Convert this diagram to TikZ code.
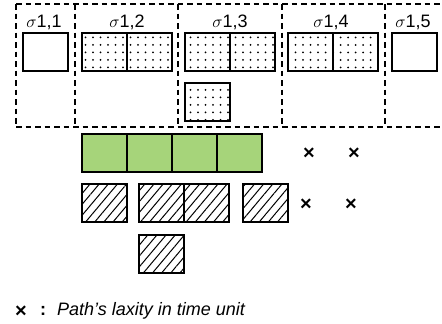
\documentclass[tikz,border=0pt]{standalone}
\usepackage{fontspec}
\setmainfont{Liberation Sans}
\usetikzlibrary{patterns.meta}
\definecolor{slotgreen}{RGB}{166,212,122}
\tikzset{
  slot/.style={line width=2.6pt},
  dotted slot/.style={slot, pattern={Dots[distance=7.5pt, radius=1pt, xshift=3pt, yshift=1.5pt]}},
  hatched slot/.style={slot, pattern={Lines[angle=50, distance=7pt, line width=1pt]}},
  green slot/.style={slot, fill=slotgreen},
  group line/.style={line width=2.4pt, dash pattern=on 5.5pt off 4pt},
  label/.style={font=\fontsize{18}{20}\selectfont, inner sep=0pt},
  mark x/.style={font=\bfseries\fontsize{20}{22}\selectfont, inner sep=0pt}
}
\begin{document}
\begin{tikzpicture}[x=1pt, y=-1pt]
      \useasboundingbox (0,0) rectangle (442,324);
      \def\w{45}
      \def\h{38}
      %
      \draw[group line] (16,4) -- (450,4);      % top edge of the groups
      \draw[group line] (16,127) -- (450,127);  % bottom edge of the groups
      \foreach \gx in {16,75,178,282,385}
        \draw[group line] (\gx,4) -- (\gx,127);
      %
      \node[label] (s11) at (44,22)  {$\sigma$1,1};
      \node[label] (s12) at (127,22) {$\sigma$1,2};
      \node[label] (s13) at (230,22) {$\sigma$1,3};
      \node[label] (s14) at (331,22) {$\sigma$1,4};
      \node[label] (s15) at (413,22) {$\sigma$1,5};
      %
      \draw[slot] (23,33) rectangle ++(\w,\h);          % sigma 1,1
      \draw[dotted slot] (82,33) rectangle ++(\w,\h);   % sigma 1,2
      \draw[dotted slot] (127,33) rectangle ++(\w,\h);
      \draw[dotted slot] (185,33) rectangle ++(\w,\h);  % sigma 1,3
      \draw[dotted slot] (230,33) rectangle ++(\w,\h);
      \draw[dotted slot] (185,83) rectangle ++(\w,\h);
      \draw[dotted slot] (288,33) rectangle ++(\w,\h);  % sigma 1,4
      \draw[dotted slot] (333,33) rectangle ++(\w,\h);
      \draw[slot] (392,33) rectangle ++(\w,\h);         % sigma 1,5
      %
      \foreach \gx in {82,127,172,217}
        \draw[green slot] (\gx,134) rectangle ++(\w,\h);
      \node[mark x] (x1) at (309,154) {×};
      \node[mark x] (x2) at (354,154) {×};
      %
      \draw[hatched slot] (82,184) rectangle ++(\w,\h);
      \draw[hatched slot] (139,184) rectangle ++(\w,\h);
      \draw[hatched slot] (184,184) rectangle ++(\w,\h);
      \draw[hatched slot] (243,184) rectangle ++(\w,\h);
      \draw[hatched slot] (139,235) rectangle ++(\w,\h);
      \node[mark x] (x3) at (306,205) {×};
      \node[mark x] (x4) at (351,205) {×};
      %
      \node[mark x] (xl) at (21,312) {×};
      \node[label, font=\bfseries\fontsize{18}{20}\selectfont] (colon) at (43,311) {:};
      \node[label, font=\itshape\fontsize{18}{20}\selectfont, anchor=west] (legend) at (57,311) {Path’s laxity in time unit};
      %
    \end{tikzpicture}
\end{document}
